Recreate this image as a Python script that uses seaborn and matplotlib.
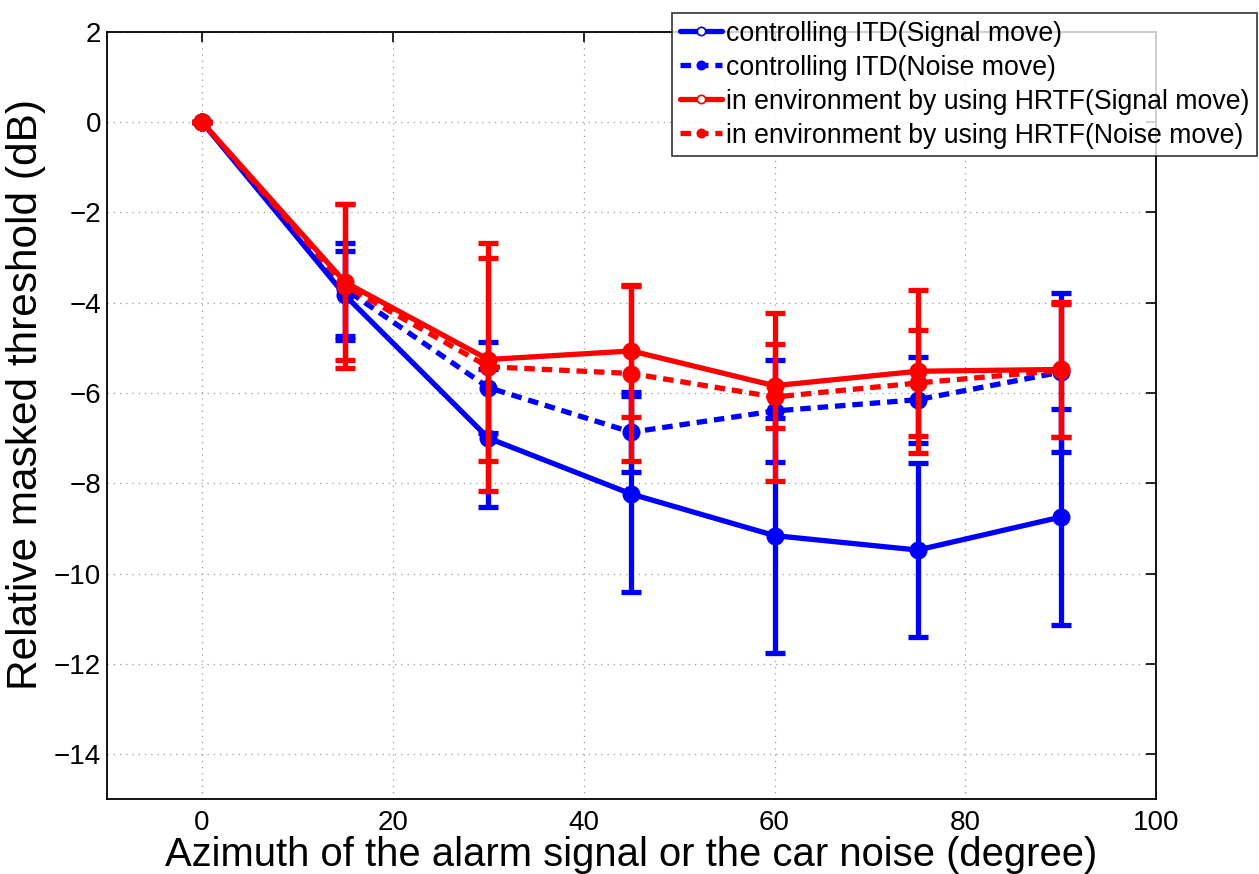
import numpy as np
import pandas as pd
import seaborn as sns
import matplotlib
matplotlib.use("Agg")
import matplotlib.pyplot as plt
from matplotlib.lines import Line2D

azimuth = [0, 15, 30, 45, 60, 75, 90]
itd_signal = [0, -3.84, -7.00, -8.24, -9.16, -9.48, -8.75]
itd_signal_err = [0, 0.99, 1.52, 2.18, 2.60, 1.93, 2.40]
itd_noise = [0, -3.70, -5.88, -6.87, -6.40, -6.15, -5.54]
itd_noise_err = [0, 1.03, 1.00, 0.88, 1.12, 0.95, 1.76]
hrtf_signal = [0, -3.55, -5.26, -5.07, -5.84, -5.52, -5.48]
hrtf_signal_err = [0, 1.73, 2.24, 1.46, 0.93, 1.80, 1.50]
hrtf_noise = [0, -3.63, -5.42, -5.57, -6.09, -5.78, -5.50]
hrtf_noise_err = [0, 1.81, 2.75, 1.94, 1.85, 1.17, 1.48]

labels = ["controlling ITD(Signal move)",
          "controlling ITD(Noise move)",
          "in environment by using HRTF(Signal move)",
          "in environment by using HRTF(Noise move)"]
colors = ["#0000ff", "#0000ff", "#ff0000", "#ff0000"]
dashes = ["-", (0, (2, 1.3)), "-", (0, (2, 1.3))]

sns.set_style("white")
plt.rcParams['font.family'] = ['Liberation Sans', 'DejaVu Sans']
plt.rcParams['text.color'] = 'black'
plt.rcParams['axes.labelcolor'] = 'black'
plt.rcParams['xtick.color'] = 'black'
plt.rcParams['ytick.color'] = 'black'

fig = plt.figure(figsize=(12.59, 8.74), dpi=100)
ax = fig.add_axes([0.0847, 0.0855, 0.9183 - 0.0847, 0.9637 - 0.0855])

series = [(itd_signal, itd_signal_err), (itd_noise, itd_noise_err),
          (hrtf_signal, hrtf_signal_err), (hrtf_noise, hrtf_noise_err)]

lw = 3.8
for i, (vals, errs) in enumerate(series):
    df = pd.DataFrame({"x": azimuth, "y": vals})
    ax.errorbar(azimuth, vals, yerr=errs, fmt="none", ecolor=colors[i],
                elinewidth=lw, capsize=7, capthick=lw, zorder=2 + i)
    sns.lineplot(data=df, x="x", y="y", ax=ax, color=colors[i], linewidth=lw,
                 marker="o", markersize=13, markeredgewidth=0,
                 linestyle="-", zorder=2.5 + i, legend=False)
    ln = ax.lines[-1]
    ln.set_linestyle(dashes[i])

ax.set_xlim(-10, 100)
ax.set_ylim(-15, 2)
ax.set_xticks([0, 20, 40, 60, 80, 100])
ax.set_yticks(np.arange(-14, 3, 2))
ax.grid(True, color="#999999", linestyle=(0, (1, 4)), linewidth=0.9)
for s in ax.spines.values():
    s.set_color("black")
    s.set_linewidth(1.3)
ax.tick_params(direction="in", length=7, width=1.2, labelsize=20,
               top=True, right=True, colors="black", labelcolor="black")
ax.tick_params(axis="x", pad=8)
ax.tick_params(axis="y", pad=4)
ax.set_xlabel("Azimuth of the alarm signal or the car noise (degree)", fontsize=28.8,
              labelpad=0, color="black")
ax.set_ylabel("Relative masked threshold (dB)", fontsize=30.5, color="black")
ax.yaxis.set_label_coords(-0.058, 0.527)

handles = []
for i in range(4):
    fc = "white" if i in (0, 2) else colors[i]
    handles.append(Line2D([0], [0], color=colors[i], linewidth=lw, linestyle=dashes[i],
                          marker="o", markersize=6, markerfacecolor=fc,
                          markeredgecolor=colors[i], markeredgewidth=1.2))
leg = fig.legend(handles, labels, loc="upper right", bbox_to_anchor=(0.9985, 0.985),
                 fontsize=19.2, frameon=True, fancybox=False, handlelength=1.6,
                 handletextpad=0.15, borderpad=0.28, labelspacing=0.3, borderaxespad=0)
leg.get_frame().set_edgecolor("black")
leg.get_frame().set_linewidth(1.2)
for t in leg.get_texts():
    t.set_color("black")

fig.savefig("out.png", dpi=100)
